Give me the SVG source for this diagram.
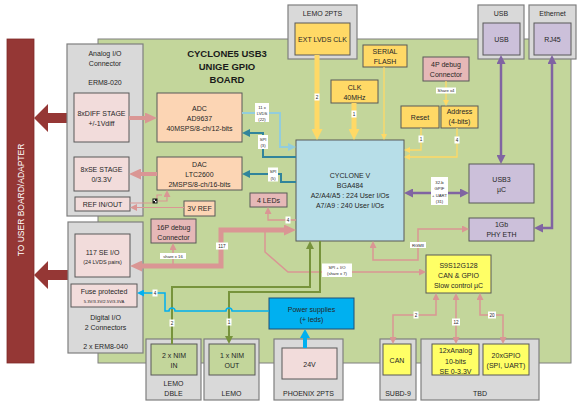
<svg xmlns="http://www.w3.org/2000/svg" width="585" height="413" viewBox="0 0 585 413">
<style>
text{font-family:"Liberation Sans",Arial,sans-serif;fill:#262626;text-anchor:middle;dominant-baseline:central;font-size:7px}
.ttl{font-weight:bold;font-size:9.5px;fill:#1a1a1a}
.sm{font-size:4.6px}
.xs{font-size:4.2px}
.box{stroke:#595959;stroke-width:1}
.outer{fill:#d9d9d9;stroke:#7f7f7f;stroke-width:1.2}
.pl{fill:#f2dcdb}.pm{fill:#e6b8b7}.pe{fill:#fcd5b4}.yo{fill:#ffd966}.yb{fill:#ffff66}
.lv{fill:#ccc0da}.cv{fill:#b7dee8}.ps{fill:#00b0f0}.gn{fill:#c3d69b}
.lbl rect{fill:#fff}
.c{fill:none}
</style>
<defs>
<marker id="yB" viewBox="0 0 10 10" markerUnits="userSpaceOnUse" markerWidth="11" markerHeight="11" refX="0" refY="5" orient="auto-start-reverse" preserveAspectRatio="none"><path d="M0,0L10,5L0,10z" fill="#ffd966"/></marker>
<marker id="yS" viewBox="0 0 10 10" markerUnits="userSpaceOnUse" markerWidth="6" markerHeight="6" refX="0" refY="5" orient="auto-start-reverse" preserveAspectRatio="none"><path d="M0,0L10,5L0,10z" fill="#ffd966"/></marker>
<marker id="pB" viewBox="0 0 10 10" markerUnits="userSpaceOnUse" markerWidth="12" markerHeight="11" refX="0" refY="5" orient="auto-start-reverse" preserveAspectRatio="none"><path d="M0,0L10,5L0,10z" fill="#da9694"/></marker>
<marker id="pS" viewBox="0 0 10 10" markerUnits="userSpaceOnUse" markerWidth="7" markerHeight="7" refX="0" refY="5" orient="auto-start-reverse" preserveAspectRatio="none"><path d="M0,0L10,5L0,10z" fill="#da9694"/></marker>
<marker id="pu" viewBox="0 0 10 10" markerUnits="userSpaceOnUse" markerWidth="9" markerHeight="9" refX="0" refY="5" orient="auto-start-reverse" preserveAspectRatio="none"><path d="M0,0L10,5L0,10z" fill="#8064a2"/></marker>
<marker id="tl" viewBox="0 0 10 10" markerUnits="userSpaceOnUse" markerWidth="8" markerHeight="8" refX="0" refY="5" orient="auto-start-reverse" preserveAspectRatio="none"><path d="M0,0L10,5L0,10z" fill="#31849b"/></marker>
<marker id="lb" viewBox="0 0 10 10" markerUnits="userSpaceOnUse" markerWidth="8" markerHeight="8" refX="0" refY="5" orient="auto-start-reverse" preserveAspectRatio="none"><path d="M0,0L10,5L0,10z" fill="#92cddc"/></marker>
<marker id="gr" viewBox="0 0 10 10" markerUnits="userSpaceOnUse" markerWidth="8" markerHeight="8" refX="0" refY="5" orient="auto-start-reverse" preserveAspectRatio="none"><path d="M0,0L10,5L0,10z" fill="#77933c"/></marker>
<marker id="cy" viewBox="0 0 10 10" markerUnits="userSpaceOnUse" markerWidth="7" markerHeight="7" refX="0" refY="5" orient="auto-start-reverse" preserveAspectRatio="none"><path d="M0,0L10,5L0,10z" fill="#00b0f0"/></marker>
<marker id="cyB" viewBox="0 0 10 10" markerUnits="userSpaceOnUse" markerWidth="9" markerHeight="10" refX="0" refY="5" orient="auto-start-reverse" preserveAspectRatio="none"><path d="M0,0L10,5L0,10z" fill="#00b0f0"/></marker>
</defs>
<rect width="585" height="413" fill="#fff"/>

<!-- board -->
<g id="board">
<rect x="98" y="39" width="473" height="324" fill="#c3d69b" stroke="#7f7f7f" stroke-width="1"/>
<text class="ttl" x="227" y="53">CYCLONE5 USB3</text>
<text class="ttl" x="227" y="66">UNIGE GPIO</text>
<text class="ttl" x="227" y="79">BOARD</text>
</g>

<!-- user board -->
<g id="userboard">
<rect x="7" y="39" width="27" height="324" fill="#953735" stroke="#7f2a28" stroke-width="0.8"/>
<text x="21" y="200" transform="rotate(-90 21 200)" style="fill:#fff;font-size:8.5px">TO USER BOARD/ADAPTER</text>
<polygon points="34,118 48,104 48,113 67,113 67,123 48,123 48,132" fill="#953735"/>
<polygon points="34,275 48,261 48,270 68,270 68,280 48,280 48,289" fill="#953735"/>
</g>

<!-- analog connector -->
<g id="analog-io">
<rect class="outer" x="67" y="44" width="76" height="172"/>
<text x="105" y="53">Analog I/O</text>
<text x="105" y="63">Connector</text>
<text x="105" y="82">ERM8-020</text>
</g>
<g id="diff-stage"><rect class="box pl" x="74" y="93" width="55" height="49"/><text x="101.5" y="113">8xDIFF STAGE</text><text x="101.5" y="123">+/-1Vdiff</text></g>
<g id="se-stage"><rect class="box pl" x="74" y="157" width="55" height="34"/><text x="101.5" y="169">8xSE STAGE</text><text x="101.5" y="179">0/3.3V</text></g>
<g id="ref-inout"><rect class="box pl" x="75" y="197" width="55" height="14"/><text x="102.5" y="204">REF IN/OUT</text></g>

<!-- digital connector -->
<g id="digital-io">
<rect class="outer" x="68" y="222" width="75" height="131"/>
<text x="105.5" y="317">Digital I/O</text>
<text x="105.5" y="327">2 Connectors</text>
<text x="105.5" y="346">2 x ERM8-040</text>
</g>
<g id="se-io"><rect class="box pl" x="75" y="234" width="55" height="43"/><text x="102.5" y="252">117 SE I/O</text><text x="102.5" y="262" style="font-size:5.5px">(24 LVDS pairs)</text></g>
<g id="fuse"><rect class="box pl" x="71" y="284" width="66" height="23"/><text x="104" y="291">Fuse protected</text><text class="xs" x="104" y="301">5.3V/3.3V/2.5V/3.3VA</text></g>

<!-- top connectors -->
<g id="lemo-2pts"><rect class="outer" x="288" y="5" width="69" height="54"/><text x="322.5" y="13">LEMO 2PTS</text></g>
<g id="ext-lvds-clk"><rect class="box yo" x="295" y="23" width="55" height="32"/><text x="322.5" y="39">EXT LVDS CLK</text></g>
<g id="usb-conn"><rect class="outer" x="478" y="5" width="46" height="54"/><text x="501" y="13">USB</text></g>
<g id="usb"><rect class="box lv" x="483" y="23" width="37" height="32"/><text x="501.5" y="39">USB</text></g>
<g id="eth-conn"><rect class="outer" x="529" y="5" width="47" height="54"/><text x="552.5" y="13">Ethernet</text></g>
<g id="rj45"><rect class="box lv" x="534" y="23" width="37" height="32"/><text x="552.5" y="39">RJ45</text></g>

<g id="serial-flash"><rect class="box yo" x="363" y="45" width="44" height="22"/><text x="385" y="51">SERIAL</text><text x="385" y="61">FLASH</text></g>
<g id="clk"><rect class="box yo" x="331" y="80" width="47" height="23"/><text x="354.5" y="87">CLK</text><text x="354.5" y="97">40MHz</text></g>
<g id="debug4"><rect class="box pm" x="423" y="57" width="46" height="24"/><text x="446" y="64">4P debug</text><text x="446" y="74">Connector</text></g>
<g id="reset"><rect class="box yo" x="401" y="106" width="38" height="22"/><text x="420" y="117">Reset</text></g>
<g id="address"><rect class="box yo" x="441" y="106" width="37" height="22"/><text x="459.5" y="111">Address</text><text x="459.5" y="121">(4-bits)</text></g>

<g id="adc"><rect class="box pe" x="157" y="93" width="85" height="49"/><text x="199.5" y="108">ADC</text><text x="199.5" y="118">AD9637</text><text x="199.5" y="128">40MSPS/8-ch/12-bits</text></g>
<g id="dac"><rect class="box pe" x="157" y="157" width="85" height="33"/><text x="199.5" y="164">DAC</text><text x="199.5" y="174">LTC2600</text><text x="199.5" y="184">2MSPS/8-ch/16-bits</text></g>
<g id="ref3v"><rect class="box pe" x="184" y="201" width="31" height="15"/><text x="199.5" y="208.5">3V REF</text></g>
<g id="debug16"><rect class="box pm" x="151" y="219" width="45" height="24"/><text x="173.5" y="227">16P debug</text><text x="173.5" y="237">Connector</text></g>
<g id="leds"><rect class="box pm" x="250" y="193" width="37" height="14"/><text x="268.5" y="200">4 LEDs</text></g>

<g id="cyclone"><rect class="box cv" x="296" y="140" width="108" height="101"/>
<text x="350" y="175">CYCLONE V</text><text x="350" y="185">BGA484</text><text x="350" y="195">A2/A4/A5 : 224 User I/Os</text><text x="350" y="205">A7/A9 : 240 User I/Os</text></g>
<g id="usb3"><rect class="box lv" x="469" y="164" width="65" height="39"/><text x="501.5" y="179">USB3</text><text x="501.5" y="189">µC</text></g>
<g id="phy"><rect class="box lv" x="469" y="218" width="65" height="23"/><text x="501.5" y="224">1Gb</text><text x="501.5" y="234">PHY ETH</text></g>
<g id="s9s12"><rect class="box yb" x="426" y="255" width="65" height="38"/><text x="458.5" y="265">S9S12G128</text><text x="458.5" y="275">CAN &amp; GPIO</text><text x="458.5" y="285">Slow control µC</text></g>
<g id="power"><rect class="ps" x="269" y="298" width="85" height="31" stroke="#1f4e79" stroke-width="1"/><text x="311.5" y="309">Power supplies</text><text x="311.5" y="319">(+ leds)</text></g>

<!-- bottom connectors -->
<g id="lemo-dble"><rect class="outer" x="146" y="339" width="55" height="61"/><text x="173.5" y="383">LEMO</text><text x="173.5" y="393">DBLE</text></g>
<g id="nim-in"><rect class="box gn" x="151" y="344" width="46" height="31"/><text x="174" y="355">2 x NIM</text><text x="174" y="365">IN</text></g>
<g id="lemo"><rect class="outer" x="204" y="339" width="55" height="61"/><text x="231.5" y="393">LEMO</text></g>
<g id="nim-out"><rect class="box gn" x="209" y="344" width="46" height="31"/><text x="232" y="355">1 x NIM</text><text x="232" y="365">OUT</text></g>
<g id="phoenix"><rect class="outer" x="274" y="339" width="69" height="61"/><text x="308.5" y="393">PHOENIX 2PTS</text></g>
<g id="v24"><rect class="box pl" x="282" y="348" width="55" height="31"/><text x="309.5" y="364">24V</text></g>
<g id="subd9"><rect class="outer" x="380" y="339" width="36" height="61"/><text x="398" y="393">SUBD-9</text></g>
<g id="can"><rect class="box yb" x="383" y="344" width="28" height="31"/><text x="397" y="360">CAN</text></g>
<g id="tbd"><rect class="outer" x="421" y="339" width="118" height="61"/><text x="480" y="393">TBD</text></g>
<g id="analog12"><rect class="box yb" x="432" y="344" width="47" height="31"/><text x="455.5" y="350">12xAnalog</text><text x="455.5" y="361">10-bits</text><text x="455.5" y="371">SE 0-3.3V</text></g>
<g id="gpio20"><rect class="box yb" x="483" y="344" width="46" height="31"/><text x="506" y="355">20xGPIO</text><text x="506" y="365">(SPI, UART)</text></g>

<!-- connectors -->
<g id="connectors" fill="none">
<path d="M317,55V129" stroke="#ffd966" stroke-width="5" marker-end="url(#yB)"/>
<path d="M354,103V129" stroke="#ffd966" stroke-width="5" marker-end="url(#yB)"/>
<path d="M384,67V134" stroke="#ffd966" stroke-width="1.3" marker-end="url(#yS)"/>
<path d="M421,128V150H410" stroke="#ffd966" stroke-width="1.3" marker-end="url(#yS)"/>
<path d="M457,128V157H410" stroke="#ffd966" stroke-width="1.3" marker-end="url(#yS)"/>
<path d="M446,81V100" stroke="#ffd966" stroke-width="1.3" marker-end="url(#yS)"/>

<path d="M501,64V155" stroke="#8064a2" stroke-width="2.5" marker-start="url(#pu)" marker-end="url(#pu)"/>
<path d="M552,64V228H543" stroke="#8064a2" stroke-width="2.5" marker-start="url(#pu)" marker-end="url(#pu)"/>
<path d="M413,193H460" stroke="#8064a2" stroke-width="2.5" marker-start="url(#pu)" marker-end="url(#pu)"/>

<path d="M373,248V260H418V229H462" stroke="#da9694" stroke-width="1.5" marker-start="url(#pS)" marker-end="url(#pS)"/>
<path d="M436,300V315H393V337" stroke="#da9694" stroke-width="1.5" marker-start="url(#pS)" marker-end="url(#pS)"/>
<path d="M456,300V337" stroke="#da9694" stroke-width="1.5" marker-start="url(#pS)" marker-end="url(#pS)"/>
<path d="M480,300V315H503V337" stroke="#da9694" stroke-width="1.5" marker-start="url(#pS)" marker-end="url(#pS)"/>
<path d="M265,231V252L288,272H419" stroke="#da9694" stroke-width="1.5" marker-end="url(#pS)"/>
<path d="M142,266H221V230H284" stroke="#da9694" stroke-width="5" marker-start="url(#pB)" marker-end="url(#pB)"/>
<path d="M173,266V250" stroke="#da9694" stroke-width="1.5" marker-end="url(#pS)"/>
<path d="M296,220H268V214" stroke="#da9694" stroke-width="1.3" marker-end="url(#pS)"/>
<path d="M129,118H145" stroke="#da9694" stroke-width="4" marker-end="url(#pB)"/>
<path d="M157,174H141" stroke="#da9694" stroke-width="4" marker-end="url(#pB)"/>
<path d="M184,207.5H137" stroke="#da9694" stroke-width="1.2" marker-end="url(#pS)"/>
<path d="M130,203H152M158,201H167V197" stroke="#da9694" stroke-width="1.2" marker-end="url(#pS)"/>
<path d="M157,199V195H162" stroke="#da9694" stroke-width="1.2"/>

<path d="M242,113H280V147H288" stroke="#92cddc" stroke-width="2" marker-end="url(#lb)"/>
<path d="M296,157H263V133H250" stroke="#31849b" stroke-width="2" marker-end="url(#tl)"/>
<path d="M296,182H281V174H250" stroke="#31849b" stroke-width="2" marker-end="url(#tl)"/>

<path d="M172,344V287H310V249" stroke="#77933c" stroke-width="2" marker-end="url(#gr)"/>
<path d="M320,241V292H229V336" stroke="#77933c" stroke-width="2" marker-end="url(#gr)"/>

<path d="M269,311H232A3,3 0 0 0 226,311H175A3,3 0 0 0 169,311H165V293H144" stroke="#00b0f0" stroke-width="1.5" marker-end="url(#cy)"/>
<path d="M305,348V338" stroke="#00b0f0" stroke-width="4" marker-end="url(#cyB)"/>

<g id="switch"><rect x="152.5" y="198.5" width="5" height="5" fill="#1a1a1a"/><rect x="153.5" y="199.5" width="1.5" height="1.5" fill="#fff"/><rect x="155" y="201" width="1.5" height="1.5" fill="#fff"/></g>
</g>

<!-- connector labels -->
<g id="labels" class="lbl">
<rect x="314.5" y="93.5" width="5" height="7"/><text class="sm" x="317" y="97">2</text>
<rect x="351.5" y="110.5" width="5" height="7"/><text class="sm" x="354" y="114">1</text>
<rect x="418.5" y="135.5" width="5" height="7"/><text class="sm" x="421" y="139">1</text>
<rect x="454.5" y="136.5" width="5" height="7"/><text class="sm" x="457" y="140">4</text>
<rect x="436" y="87.5" width="20" height="6"/><text class="xs" x="446" y="90.5">Share x4</text>
<rect x="431" y="177" width="17" height="28"/><text class="xs" x="439.5" y="182">32-b</text><text class="xs" x="439.5" y="188">GPIF</text><text class="xs" x="439.5" y="195">+ UART</text><text class="xs" x="439.5" y="201">(31)</text>
<rect x="410" y="242" width="16" height="6"/><text class="xs" x="418" y="245">RGMII</text>
<rect x="413.5" y="311.5" width="5" height="7"/><text class="sm" x="416" y="315">2</text>
<rect x="452" y="318.5" width="8" height="7"/><text class="sm" x="456" y="322">12</text>
<rect x="488" y="311.5" width="8" height="7"/><text class="sm" x="492" y="315">20</text>
<rect x="322" y="263.5" width="30" height="13.5"/><text class="xs" x="337" y="267.5">SPI + I/O</text><text class="xs" x="337" y="273.5">(share x 7)</text>
<rect x="216" y="242.5" width="12" height="7"/><text class="sm" x="222" y="246">117</text>
<rect x="160" y="253" width="26" height="6"/><text class="xs" x="173" y="256">share x 16</text>
<rect x="285.5" y="216.5" width="5" height="7"/><text class="sm" x="288" y="220">4</text>
<rect x="255" y="103" width="14" height="19"/><text class="xs" x="262" y="107">11 x</text><text class="xs" x="262" y="113">LVDS</text><text class="xs" x="262" y="119">(22)</text>
<rect x="258" y="135" width="10" height="14"/><text class="xs" x="263" y="139">SPI</text><text class="xs" x="263" y="145.5">(3)</text>
<rect x="268" y="167.5" width="10" height="14"/><text class="xs" x="273" y="171">SPI</text><text class="xs" x="273" y="178">(5)</text>
<rect x="169.5" y="319.5" width="5" height="7"/><text class="sm" x="172" y="323">2</text>
<rect x="226.5" y="318.5" width="5" height="7"/><text class="sm" x="229" y="322">1</text>
<rect x="152.5" y="289.5" width="5" height="7"/><text class="sm" x="155" y="293">4</text>
</g>
</svg>
